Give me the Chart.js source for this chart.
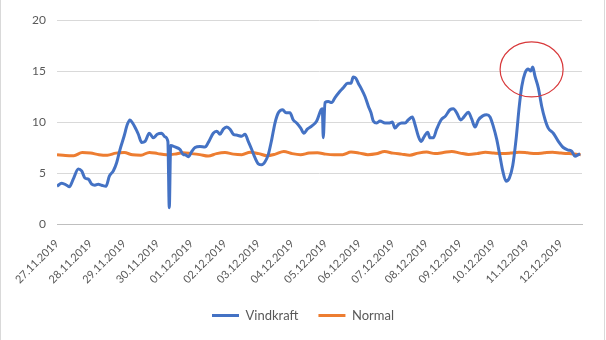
<!DOCTYPE html>
<html>
<head>
<meta charset="utf-8">
<script src="https://cdn.jsdelivr.net/npm/chart.js@4/dist/chart.umd.min.js"></script>
<style>
  html, body { margin: 0; padding: 0; background: #fff; }
  #wrap { position: relative; width: 606px; height: 340px; }
  #frame { position: absolute; left: 0; top: -2px; width: 603px; height: 344px;
           border-left: 1px solid #d9d9d9; border-right: 1px solid #d9d9d9; pointer-events: none; }
</style>
</head>
<body>
<div id="wrap">
  <canvas id="windChart" width="606" height="340"></canvas>
  <div id="frame"></div>
</div>
<script>
// Date labels, one per day (x axis is hours since 27.11.2019 00:00)
const dateLabels = ['27.11.2019', '28.11.2019', '29.11.2019', '30.11.2019', '01.12.2019', '02.12.2019',
  '03.12.2019', '04.12.2019', '05.12.2019', '06.12.2019', '07.12.2019', '08.12.2019',
  '09.12.2019', '10.12.2019', '11.12.2019', '12.12.2019'];
const yTicks = [0, 5, 10, 15, 20];

// Vindkraft (hour, value)
const windHours = [0, 3.4, 6.9, 8.8, 11.6, 15.2, 17.6, 20, 22.4, 24.8, 27.1, 29.5, 31.9, 35, 37.4, 40.2,
  42.6, 45, 47.9, 50.2, 52.1, 54, 56.4, 58.1, 60.5, 62.9, 65.9, 68.8, 71.6, 74.8, 77.1, 79.2, 80.2, 81.2,
  84.3, 87.9, 90.2, 91.4, 93.8, 96.2, 98.6, 102.1, 105.7, 108.1, 111.6, 114.1, 116.4, 118.8, 121.2,
  123.6, 125.9, 128.8, 131.9, 134.3, 136.6, 139.1, 141.4, 143.8, 146.2, 148.6, 150.9, 153.4, 155.7,
  158.1, 161.2, 163.6, 166.4, 168.8, 171.2, 174.1, 176.4, 178.8, 181.9, 185.5, 188.6, 189.5, 190.2,
  191.4, 193.8, 196.2, 198.6, 201.4, 204.5, 207.6, 210, 211.6, 213.4, 215.2, 217.6, 220, 222.4, 224.3,
  225.9, 228.4, 230.7, 234.3, 237.1, 239.5, 241.4, 243.8, 246.2, 248.6, 250.9, 253.8, 255.7, 258.1,
  260, 262.4, 264.8, 266.4, 268.8, 271.2, 274.3, 277.6, 280.7, 283.1, 285.5, 288.4, 290.7, 293.8,
  296.2, 298.6, 301, 304.1, 306.9, 309.3, 311.6, 314.1, 316.4, 318.4, 320.7, 323.1, 325.5, 327.9,
  330.2, 332, 334.3, 336.6, 338.4, 339.8, 341.4, 343.8, 346.2, 348.6, 350.9, 354.5, 358.1, 361.6,
  365.2, 367.6, 370, 372.4, 373.6];
const windValues = [3.7, 4.0, 3.8, 3.65, 4.4, 5.4, 5.2, 4.5, 4.4, 3.9, 3.8, 3.9, 3.8, 3.7, 4.7, 5.2,
  6.0, 7.3, 8.6, 9.75, 10.2, 9.9, 9.3, 8.8, 8.0, 8.1, 8.9, 8.45, 8.8, 8.9, 8.55, 8.1, 1.6, 7.7,
  7.55, 7.3, 6.8, 6.8, 6.6, 7.1, 7.5, 7.6, 7.55, 8.0, 8.9, 9.1, 8.8, 9.3, 9.5,
  9.3, 8.8, 8.7, 8.6, 8.8, 8.1, 7.3, 6.5, 5.9, 5.8, 6.1, 6.8, 8.3, 9.9,
  10.9, 11.2, 10.9, 10.9, 10.2, 9.9, 9.4, 8.9, 9.3, 9.6, 10.1, 11.2, 11.3, 8.45,
  11.9, 12.0, 11.9, 12.4, 12.9, 13.35, 13.8, 13.8, 14.4, 14.3, 13.8, 13.2, 12.5, 11.55, 10.9,
  10.1, 9.9, 10.1, 9.9, 9.9, 10.0, 9.4, 9.75, 9.9, 9.9, 10.2, 10.5, 9.75, 8.6,
  8.1, 8.6, 9.0, 8.45, 8.45, 9.3, 10.2, 10.6, 11.2, 11.3, 10.9, 10.2, 10.5, 10.95,
  10.3, 9.5, 10.2, 10.6, 10.7, 10.5, 9.6, 8.3, 6.65, 5.2, 4.2, 4.5, 5.7, 8.3,
  11.55, 13.5, 14.8, 15.2, 15.0, 15.4, 14.5, 13.35, 11.55, 10.25, 9.4, 8.9, 8.1, 7.5,
  7.25, 7.15, 6.65, 6.8, 6.9];

// Normal, every 6 hours
const normalHours = [0, 6, 12, 18, 24, 30, 36, 42, 48, 54, 60, 66, 72, 78, 84, 90, 96, 102, 108, 114,
  120, 126, 132, 138, 144, 150, 156, 162, 168, 174, 180, 186, 192, 198, 204, 210, 216, 222, 228, 234,
  240, 246, 252, 258, 264, 270, 276, 282, 288, 294, 300, 306, 312, 318, 324, 330, 336, 342, 348, 354,
  360, 366, 372, 374];
const normalValues = [6.8, 6.72, 6.7, 7.0, 6.95, 6.8, 6.75, 6.95, 7.0, 6.78, 6.75, 7.02, 6.9, 6.8, 6.85,
  6.98, 6.9, 6.8, 6.66, 6.9, 7.0, 6.85, 6.8, 7.04, 6.9, 6.7, 6.85, 7.1, 6.9, 6.8, 6.95, 6.98, 6.85,
  6.8, 6.8, 7.05, 6.95, 6.8, 6.88, 7.1, 6.95, 6.85, 6.75, 6.95, 7.05, 6.9, 7.0, 7.12, 6.95, 6.82,
  6.9, 7.03, 6.95, 6.9, 6.95, 7.04, 6.98, 6.9, 6.98, 7.04, 6.95, 6.9, 6.82, 6.8];

// Highlight ellipse around the peak (hour, value of its centre)
const markHour = 339;
const markValue = 15.15;

const windColor = '#4472C4';
const normalColor = '#ED7D31';
const textColor = '#595959';
const fontFamily = 'Lato, "Open Sans", sans-serif';

const toPoints = (xs, ys) => xs.map((x, i) => ({ x: x, y: ys[i] }));

const ellipsePlugin = {
  id: 'peakEllipse',
  afterDatasetsDraw(chart) {
    const ctx = chart.ctx;
    const cx = chart.scales.x.getPixelForValue(markHour);
    const cy = chart.scales.y.getPixelForValue(markValue);
    ctx.save();
    ctx.beginPath();
    ctx.ellipse(cx, cy, 31.5, 27.5, 0, 0, Math.PI * 2);
    ctx.strokeStyle = '#d8393b';
    ctx.lineWidth = 1.2;
    ctx.stroke();
    ctx.restore();
  },
};

document.addEventListener('DOMContentLoaded', () => {
  const ctx = document.getElementById('windChart').getContext('2d');
  new Chart(ctx, {
    type: 'line',
    data: {
      datasets: [
        {
          label: 'Vindkraft',
          data: toPoints(windHours, windValues),
          borderColor: windColor,
          backgroundColor: windColor,
          borderWidth: 3,
          pointRadius: 0,
          cubicInterpolationMode: 'monotone',
        },
        {
          label: 'Normal',
          data: toPoints(normalHours, normalValues),
          borderColor: normalColor,
          backgroundColor: normalColor,
          borderWidth: 3,
          pointRadius: 0,
          cubicInterpolationMode: 'monotone',
        },
      ],
    },
    options: {
      responsive: false,
      animation: false,
      layout: { padding: { top: 20, left: 0, right: 0, bottom: 8 } },
      plugins: {
        tooltip: { enabled: false },
        legend: {
          position: 'bottom',
          labels: {
            color: textColor,
            font: { family: fontFamily, size: 13 },
            boxWidth: 27,
            boxHeight: 3,
            padding: 20,
            generateLabels: (chart) => {
              const items = Chart.defaults.plugins.legend.labels.generateLabels(chart);
              items.forEach((item) => {
                item.fillStyle = item.strokeStyle;
                item.lineWidth = 0;
              });
              return items;
            },
          },
        },
      },
      scales: {
        x: {
          type: 'linear',
          min: 0,
          max: 375,
          grid: { display: false },
          border: { display: true, color: '#bfbfbf', width: 1 },
          ticks: {
            stepSize: 24,
            includeBounds: false,
            autoSkip: false,
            minRotation: 45,
            maxRotation: 45,
            padding: 5,
            color: textColor,
            font: { family: fontFamily, size: 11 },
            callback: (value) => dateLabels[value / 24],
          },
          afterFit: (scale) => { scale.height = 65; },
        },
        y: {
          min: yTicks[0],
          max: yTicks[yTicks.length - 1],
          grid: { color: '#d9d9d9', drawTicks: false },
          border: { display: false },
          ticks: {
            stepSize: 5,
            padding: 11,
            color: textColor,
            font: { family: fontFamily, size: 12 },
          },
          afterFit: (scale) => { scale.width = 57; },
        },
        // empty right margin so the legend centres on the whole page
        yRight: {
          position: 'right',
          grid: { display: false },
          border: { display: false },
          ticks: { display: false },
          afterFit: (scale) => { scale.width = 24; },
        },
      },
    },
    plugins: [ellipsePlugin],
  });
});
</script>
</body>
</html>
